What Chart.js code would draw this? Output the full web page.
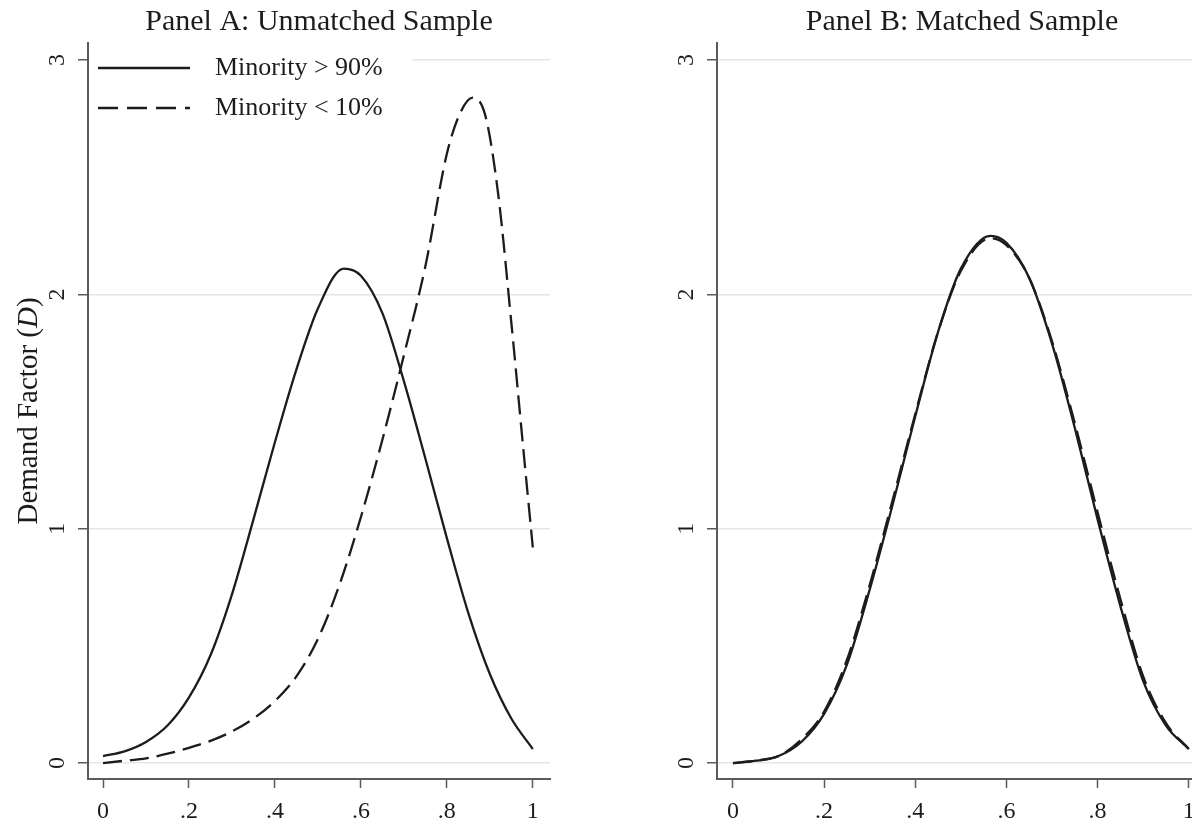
<!DOCTYPE html>
<html>
<head>
<meta charset="utf-8">
<script src="https://cdn.jsdelivr.net/npm/chart.js@4.4.0/dist/chart.umd.min.js"></script>
<style>
  html, body { margin: 0; padding: 0; background: #fff; overflow: hidden; }
  body { width: 1192px; height: 825px; position: relative; }
  .panel { position: absolute; top: 0; }
  #panelA { left: 0; }
  #panelB { left: 600px; }
</style>
</head>
<body>
<div class="panel" id="panelA"><canvas id="chartA" width="600" height="825"></canvas></div>
<div class="panel" id="panelB"><canvas id="chartB" width="620" height="825"></canvas></div>
<script>
// ===== DADOS =====
const xTicks = [0, 0.2, 0.4, 0.6, 0.8, 1];
const yTicks = [0, 1, 2, 3];
const seriesNames = ["Minority > 90%", "Minority < 10%"];
const titleA = "Panel A: Unmatched Sample";
const titleB = "Panel B: Matched Sample";

// Panel A, Minority > 90% (solid)
const xA1 = [0, .05, .1, .15, .2, .25, .3, .35, .4, .45, .5, .56, .6, .65, .7, .75, .8, .85, .9, .95, 1];
const yA1 = [.03, .05, .09, .16, .28, .46, .72, 1.04, 1.37, 1.68, 1.94, 2.11, 2.08, 1.92, 1.63, 1.30, .96, .64, .38, .19, .06];
// Panel A, Minority < 10% (dashed)
const xA2 = [0, .05, .1, .15, .2, .25, .3, .35, .4, .45, .5, .55, .6, .65, .7, .75, .8, .83, .86, .89, .92, .95, .98, 1];
const yA2 = [0, .01, .02, .04, .065, .095, .135, .19, .265, .37, .53, .76, 1.05, 1.38, 1.74, 2.12, 2.60, 2.77, 2.84, 2.76, 2.42, 1.88, 1.30, .92];

// Panel B (matched)
const xB = [0, .05, .1, .15, .2, .25, .3, .35, .4, .45, .5, .565, .6, .65, .7, .75, .8, .85, .9, .95, 1];
const yB1 = [0, .01, .03, .09, .21, .42, .74, 1.10, 1.48, 1.84, 2.11, 2.25, 2.22, 2.07, 1.79, 1.43, 1.04, .67, .35, .16, .06];
const yB2 = [0, .01, .03, .10, .22, .44, .76, 1.12, 1.49, 1.84, 2.10, 2.24, 2.21, 2.07, 1.80, 1.45, 1.07, .70, .37, .17, .06];

// ===== ESTILO =====
const ink = "#1c1c1c";
const axisGray = "#5a5a5a";
const serif = "'Liberation Serif', 'DejaVu Serif', serif";
const dash = [19, 8];

const pts = (xs, ys) => xs.map((x, i) => ({ x, y: ys[i] }));
const fmtX = v => (v === 0 || v === 1) ? String(v) : String(v).replace(/^0/, "");

// título centrado na área do gráfico (como no Stata)
const panelTitle = {
  id: "panelTitle",
  afterDraw(chart, args, opts) {
    const { ctx, chartArea: a } = chart;
    ctx.save();
    ctx.fillStyle = ink;
    ctx.font = "30px " + serif;
    ctx.textAlign = "center";
    ctx.textBaseline = "middle";
    ctx.fillText(opts.text, (a.left + a.right) / 2, 22);
    ctx.restore();
  }
};

// legenda dentro do painel A
const legendBox = {
  id: "legendBox",
  afterDatasetsDraw(chart) {
    const { ctx, chartArea: a } = chart;
    ctx.save();
    ctx.fillStyle = "#fff";
    ctx.fillRect(a.left + 1.5, a.top, 322, 84);
    ctx.strokeStyle = ink;
    ctx.lineWidth = 2.3;
    [0, 1].forEach(i => {
      const y = a.top + 25 + i * 40;
      ctx.setLineDash(i === 0 ? [] : [20, 9]);
      ctx.beginPath();
      ctx.moveTo(a.left + 10, y);
      ctx.lineTo(a.left + 102, y);
      ctx.stroke();
      ctx.setLineDash([]);
      ctx.fillStyle = ink;
      ctx.font = "26px " + serif;
      ctx.textBaseline = "middle";
      ctx.textAlign = "left";
      ctx.fillText(seriesNames[i], a.left + 127, y);
    });
    ctx.restore();
  }
};

// título do eixo Y com D em itálico
const yTitle = {
  id: "yTitle",
  afterDraw(chart) {
    const { ctx, chartArea: a } = chart;
    const parts = [["Demand Factor (", ""], ["D", "italic "], [")", ""]];
    ctx.save();
    ctx.fillStyle = ink;
    ctx.textBaseline = "middle";
    ctx.textAlign = "left";
    let total = 0;
    parts.forEach(([t, st]) => { ctx.font = st + "29px " + serif; total += ctx.measureText(t).width; });
    ctx.translate(29, (a.top + a.bottom) / 2);
    ctx.rotate(-Math.PI / 2);
    let x = -total / 2;
    parts.forEach(([t, st]) => {
      ctx.font = st + "29px " + serif;
      ctx.fillText(t, x, 0);
      x += ctx.measureText(t).width;
    });
    ctx.restore();
  }
};

function makeChart(id, title, datasets, yWidth, padRight, plugins) {
  return new Chart(document.getElementById(id), {
    type: "line",
    data: { datasets },
    options: {
      responsive: false,
      animation: false,
      layout: { padding: { left: 0, right: padRight, top: 43, bottom: 0 } },
      plugins: {
        legend: { display: false },
        tooltip: { enabled: false },
        title: { display: false },
        panelTitle: { text: title }
      },
      scales: {
        x: {
          type: "linear",
          min: -0.035,
          max: 1.04,
          afterBuildTicks: s => { s.ticks = xTicks.map(v => ({ value: v })); },
          afterFit: s => { s.height = 46; },
          ticks: {
            color: ink,
            font: { family: serif, size: 24 },
            padding: 9,
            maxRotation: 0,
            callback: v => fmtX(v)
          },
          grid: { drawOnChartArea: false, drawTicks: true, tickLength: 9, tickColor: axisGray, tickWidth: 1.5 },
          border: { display: true, color: axisGray, width: 2 }
        },
        y: {
          type: "linear",
          min: -0.068,
          max: 3.073,
          afterBuildTicks: s => { s.ticks = yTicks.map(v => ({ value: v })); },
          afterFit: s => { s.width = yWidth; },
          ticks: {
            color: ink,
            font: { family: serif, size: 24 },
            padding: 14,
            minRotation: 90,
            maxRotation: 90,
            crossAlign: "center",
            callback: v => String(v)
          },
          grid: { color: "#e6e6e6", lineWidth: 1.5, tickLength: 10, tickColor: axisGray, tickWidth: 1.5 },
          border: { display: true, color: axisGray, width: 2 }
        }
      }
    },
    plugins: [panelTitle, ...plugins]
  });
}

const lineStyle = (data, dashed) => ({
  data,
  borderColor: ink,
  borderWidth: 2.3,
  borderDash: dashed ? dash : [],
  pointRadius: 0,
  fill: false,
  cubicInterpolationMode: "monotone"
});

makeChart("chartA", titleA, [
  { label: seriesNames[0], ...lineStyle(pts(xA1, yA1), false) },
  { label: seriesNames[1], ...lineStyle(pts(xA2, yA2), true) }
], 88, 50, [legendBox, yTitle]);

makeChart("chartB", titleB, [
  { label: seriesNames[0], ...lineStyle(pts(xB, yB1), false) },
  { label: seriesNames[1], ...lineStyle(pts(xB, yB2), true) }
], 117, 13, []);
</script>
</body>
</html>
